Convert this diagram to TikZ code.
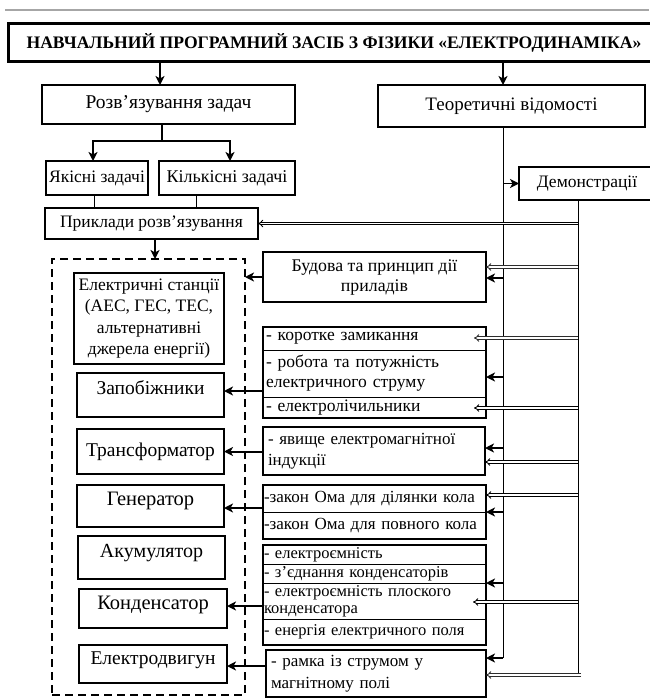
\documentclass[tikz,border=0pt]{standalone}
\usepackage{fontspec}
\setmainfont{Liberation Serif}
\usetikzlibrary{arrows.meta,calc}
\begin{document}
\begin{tikzpicture}[x=1pt,y=-1pt,
  every node/.style={inner sep=0pt,outer sep=0pt},
  bx/.style={draw,line width=1.2pt,align=center,anchor=north west},
  tbx/.style={draw,line width=2.4pt,align=center,anchor=north west},
  rowbx/.style={draw,line width=0.9pt,anchor=north west,align=left,inner xsep=3pt},
  grp/.style={draw,line width=2.4pt,anchor=north west},
  fA/.style={font=\fontsize{17.5}{20}\selectfont},
  fB/.style={font=\fontsize{19.5}{23}\selectfont},
  fC/.style={font=\fontsize{16.5}{17}\selectfont},
  tarr/.style={line width=2pt,-{Stealth[length=9pt,width=9pt,inset=2.5pt]}},
  tline/.style={line width=2.4pt},
  thin/.style={line width=0.8pt},
  darr/.style={double,double distance=1.6pt,line width=0.9pt,-{Implies[length=7pt,width=12pt]}},
  garr/.style={darr,draw=gray!35!black},
]
\useasboundingbox (0,0) rectangle (649,698);
\fill[white] (0,0) rectangle (649,698);
% top rule
\draw[gray!70,line width=1.8pt] (5,10) -- (649,10);

% title
\node[draw,line width=3pt,anchor=north west,minimum width=650pt,minimum height=38pt] (title) at (8,24) {};
\node[font=\fontsize{17.6}{20}\selectfont\bfseries] (titletext) at (334,43) {НАВЧАЛЬНИЙ ПРОГРАМНИЙ ЗАСІБ З ФІЗИКИ «ЕЛЕКТРОДИНАМІКА»};

\coordinate (vx) at (503,0);
\coordinate (dx) at (578,0);

% level 1
\node[bx,fB,minimum width=253pt,minimum height=39pt] (rz) at (42,85) {Розв’язування задач};
\node[bx,fB,font=\fontsize{19}{23}\selectfont,minimum width=267pt,minimum height=42pt] (tv) at (378,85) {Теоретичні відомості};
\draw[tarr] (title.south -| 160,0) -- (160,85);
\draw[tarr] (title.south -| vx) -- (tv.north -| vx);

% tasks
\node[bx,fA,line width=1.6pt,minimum width=102pt,minimum height=34pt] (yak) at (46,161) {Якісні задачі};
\node[bx,fA,font=\fontsize{18}{20}\selectfont,line width=1.6pt,minimum width=136pt,minimum height=34pt] (kil) at (159,161) {Кількісні задачі};
\node[bx,fA,minimum width=213pt,minimum height=31pt] (pr) at (45,208) {Приклади розв’язування};
\coordinate (j) at (162,141);
\draw[tline] (rz.south -| j) -- (j);
\draw[tarr] (j) -| (yak.north -| 93,0);
\draw[tarr] (j) -| (kil.north -| 230,0);
\draw[thin] (yak.south -| 94,0) -- (pr.north -| 94,0);
\draw[thin] (kil.south -| 196,0) -- (pr.north -| 196,0);

% dashed container
\node[draw,line width=2.6pt,dash pattern=on 8pt off 5pt,anchor=north west,minimum width=193pt,minimum height=436pt] (dash) at (52,259) {};
\draw[tarr,line width=1.6pt] (pr.south -| 155,0) -- (dash.north -| 155,0);

% left boxes
\node[bx,font=\fontsize{17.5}{21.3}\selectfont,minimum width=150pt,minimum height=91pt] (es) at (74,273) {Електричні станції\\(АЕС, ГЕС, ТЕС,\\альтернативні\\джерела енергії)};
\node[bx,fB,minimum width=147pt,minimum height=44pt,text depth=14pt] (zap) at (77,373) {Запобіжники};
\node[bx,fB,minimum width=147pt,minimum height=45pt] (tr) at (77,429) {Трансформатор};
\node[bx,fB,font=\fontsize{20.5}{23}\selectfont,minimum width=147pt,minimum height=42pt,text depth=14pt] (gen) at (77,485) {Генератор};
\node[bx,fB,font=\fontsize{20}{23}\selectfont,minimum width=147pt,minimum height=43pt,text depth=14pt] (ak) at (78,536) {Акумулятор};
\node[bx,fB,font=\fontsize{20.5}{23}\selectfont,minimum width=148pt,minimum height=39pt,text depth=12pt] (kon) at (79,589) {Конденсатор};
\node[bx,fB,minimum width=148pt,minimum height=38pt,text depth=12pt] (ed) at (79,645) {Електродвигун};

% demonstrations
\node[tbx,fA,minimum width=136pt,minimum height=33pt] (dem) at (519,167) {Демонстрації};

% Budova
\node[tbx,font=\fontsize{17.8}{20}\selectfont,minimum width=223pt,minimum height=50pt] (bud) at (263,252) {Будова та принцип дії\\приладів};

% group 2
\node[rowbx,fA,text width=217pt,minimum height=23pt] (g2a) at (263,327) {- коротке замикання};
\node[rowbx,fA,text width=217pt,minimum height=47pt] (g2b) at (263,350) {- робота та потужність\\електричного струму};
\node[rowbx,fA,text width=217pt,minimum height=21pt] (g2c) at (263,397) {- електролічильники};
\node[grp,minimum width=223pt,minimum height=91pt] (g2) at (263,327) {};

% induction
\node[tbx,align=left,font=\fontsize{17}{21}\selectfont,text width=212pt,minimum height=48pt,inner xsep=5pt] (ind) at (263,427) {- явище електромагнітної\\індукції};

% Ohm
\node[rowbx,font=\fontsize{17}{19}\selectfont,text width=221pt,inner xsep=1pt,minimum height=27pt] (om1) at (263,485) {-закон Ома для ділянки кола};
\node[rowbx,font=\fontsize{17}{19}\selectfont,text width=221pt,inner xsep=1pt,minimum height=27pt] (om2) at (263,512) {-закон Ома для повного кола};
\node[grp,minimum width=223pt,minimum height=54pt] (om) at (263,485) {};

% capacitance group
\node[rowbx,fC,text width=221pt,inner xsep=1pt,minimum height=19pt] (c1) at (263,545) {- електроємність};
\node[rowbx,fC,text width=221pt,inner xsep=1pt,minimum height=19pt] (c2) at (263,564) {- з’єднання конденсаторів};
\node[rowbx,fC,text width=221pt,inner xsep=1pt,minimum height=36pt] (c3) at (263,583) {- електроємність плоского\\конденсатора};
\node[rowbx,fC,text width=221pt,inner xsep=1pt,minimum height=26pt] (c4) at (263,619) {- енергія електричного поля};
\node[grp,minimum width=223pt,minimum height=100pt] (cg) at (263,545) {};

% frame
\node[tbx,align=left,font=\fontsize{17}{22}\selectfont,text width=210pt,inner xsep=5pt,minimum height=47pt] (fr) at (266,650) {- рамка із струмом у\\магнітному полі};

% arrows to left column
\draw[tarr] (bud.west) -- (dash.east |- bud.west);
\draw[tarr] (g2.west |- 0,391) -- (zap.east |- 0,391);
\draw[tarr] (ind.west |- tr.east) -- (tr.east);
\draw[tarr] (om.west |- 0,508) -- (gen.east |- 0,508);
\draw[tarr] (cg.west |- 0,606) -- (kon.east |- 0,606);
\draw[tarr] (fr.west |- 0,666) -- (ed.east |- 0,666);

% vertical trunks
\draw[thin] (tv.south -| vx) -- (vx |- 0,658);
\draw[thin] (dem.south -| dx) -- (dx |- 0,675);
\draw[tarr,line width=1.6pt] (vx |- dem.west) -- (dem.west);

% arrows from trunk vx (single)
\draw[tarr] (vx |- 0,278) -- (bud.east |- 0,278);
\draw[tarr] (vx |- 0,377) -- (g2.east |- 0,377);
\draw[tarr] (vx |- 0,448) -- (ind.east |- 0,448);
\draw[tarr] (vx |- 0,512) -- (om.east |- 0,512);
\draw[tarr] (vx |- 0,583) -- (cg.east |- 0,583);
\draw[tarr] (vx |- 0,658) -- (fr.east |- 0,658);

% double arrows from trunk dx
\draw[darr] (dx |- pr.east) -- (pr.east);
\draw[garr] (dx |- 0,267) -- (bud.east |- 0,267);
\draw[garr] (dx |- 0,338) -- (474,338);
\draw[darr] (dx |- 0,408) -- (474,408);
\draw[darr] (dx |- 0,462) -- (ind.east |- 0,462);
\draw[darr] (dx |- 0,495) -- (om.east |- 0,495);
\draw[darr] (dx |- 0,602) -- (473,602);
\draw[garr] (581,675) -- (fr.east |- 0,675);
\end{tikzpicture}
\end{document}
